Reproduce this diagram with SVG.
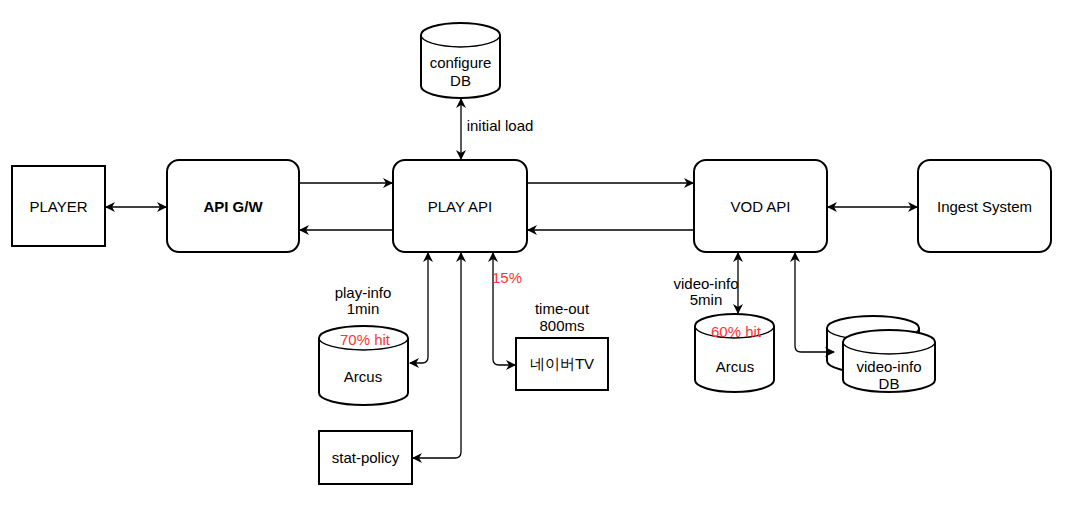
<svg xmlns="http://www.w3.org/2000/svg" width="1073" height="508" viewBox="0 0 1073 508">
<style>
.n{fill:#fff;stroke:#000;stroke-width:2}
.t{font-family:"Liberation Sans",Arial,sans-serif;font-size:15px;fill:#000;text-anchor:middle}
.r{fill:#ff3333}
.c{fill:none;stroke:#000;stroke-width:1.3}
</style>
<defs>
<marker id="a" viewBox="0 0 10 10" refX="9" refY="5" markerWidth="10" markerHeight="10" markerUnits="userSpaceOnUse" orient="auto-start-reverse">
<path d="M0,0 L10,5 L0,10 L3,5 z" fill="#000"/>
</marker>
</defs>
<rect width="1073" height="508" fill="#fff"/>
<g id="player"><rect class="n" x="12" y="166" width="93" height="80" stroke-width="2.5"/><text class="t" x="58.5" y="212">PLAYER</text></g>
<g id="apigw"><rect class="n" x="167" y="160" width="132" height="92" rx="12"/><text class="t" x="233" y="212" font-weight="bold">API G/W</text></g>
<g id="playapi"><rect class="n" x="393" y="160" width="134" height="92" rx="12"/><text class="t" x="460" y="212">PLAY API</text></g>
<g id="vodapi"><rect class="n" x="694" y="160" width="133" height="92" rx="12"/><text class="t" x="760.5" y="212">VOD API</text></g>
<g id="ingest"><rect class="n" x="918" y="160" width="133" height="92" rx="12"/><text class="t" x="984.5" y="212">Ingest System</text></g>
<g id="configdb">
<path class="n" stroke-width="1.3" d="M421,35 A39.5,12 0 0 1 500,35 L500,86 A39.5,12 0 0 1 421,86 Z"/>
<path fill="none" stroke="#000" stroke-width="1.3" d="M421,35 A39.5,12 0 0 0 500,35"/>
<text class="t" x="460.5" y="68">configure</text><text class="t" x="460.5" y="86">DB</text>
</g>
<g id="arcus1">
<path class="n" stroke-width="1.3" d="M319,338 A44.5,12 0 0 1 408,338 L408,393 A44.5,12 0 0 1 319,393 Z"/>
<path fill="none" stroke="#000" stroke-width="1.3" d="M319,338 A44.5,12 0 0 0 408,338"/>
<text class="t r" x="365" y="345">70% hit</text><text class="t" x="363" y="382">Arcus</text>
</g>
<g id="statpolicy"><rect class="n" stroke-width="1.3" x="319" y="431" width="93" height="53"/><text class="t" x="365.5" y="463">stat-policy</text></g>
<g id="navertv"><rect class="n" stroke-width="1.3" x="516" y="338" width="92" height="52"/><text class="t" x="562" y="369" font-family="'Liberation Sans','Noto Sans CJK KR',sans-serif">네이버TV</text></g>
<g id="arcus2">
<path class="n" stroke-width="1.3" d="M695,326 A39.5,12 0 0 1 774,326 L774,380 A39.5,12 0 0 1 695,380 Z"/>
<path fill="none" stroke="#000" stroke-width="1.3" d="M695,326 A39.5,12 0 0 0 774,326"/>
<text class="t r" x="736" y="337">60% hit</text><text class="t" x="735" y="372">Arcus</text>
</g>
<g id="videodb">
<path class="n" stroke-width="1.3" d="M827,328 A46,12 0 0 1 919,328 L919,361 A46,12 0 0 1 827,361 Z"/>
<path fill="none" stroke="#000" stroke-width="1.3" d="M827,328 A46,12 0 0 0 919,328"/>
<path class="n" stroke-width="1.3" d="M843,342 A46,12 0 0 1 935,342 L935,380 A46,12 0 0 1 843,380 Z"/>
<path fill="none" stroke="#000" stroke-width="1.3" d="M843,342 A46,12 0 0 0 935,342"/>
<text class="t" x="889" y="372">video-info</text><text class="t" x="889" y="389">DB</text>
</g>
<g id="connectors">
<path class="c" d="M106,207 L166,207" marker-start="url(#a)" marker-end="url(#a)"/>
<path class="c" d="M299,183 L392,183" marker-end="url(#a)"/>
<path class="c" d="M393,230 L300,230" marker-end="url(#a)"/>
<path class="c" d="M527,183 L693,183" marker-end="url(#a)"/>
<path class="c" d="M694,230 L528,230" marker-end="url(#a)"/>
<path class="c" d="M828,207 L917,207" marker-start="url(#a)" marker-end="url(#a)"/>
<path class="c" d="M461,99 L461,159" marker-start="url(#a)" marker-end="url(#a)"/>
<path class="c" d="M428,253 L428,357 Q428,363 422,363 L410,363" marker-start="url(#a)" marker-end="url(#a)"/>
<path class="c" d="M461,253 L461,452 Q461,458 455,458 L413,458" marker-start="url(#a)" marker-end="url(#a)"/>
<path class="c" d="M493,253 L493,359 Q493,365 499,365 L515,365" marker-start="url(#a)" marker-end="url(#a)"/>
<path class="c" d="M738,253 L738,313" marker-start="url(#a)" marker-end="url(#a)"/>
<path class="c" d="M795,253 L795,346 Q795,352 801,352 L834,352" marker-start="url(#a)" marker-end="url(#a)"/>
<text class="t" x="500" y="131">initial load</text>
<text class="t" x="363" y="298">play-info</text><text class="t" x="363" y="314">1min</text>
<text class="t r" x="507" y="283">15%</text>
<text class="t" x="562" y="314">time-out</text><text class="t" x="562" y="331">800ms</text>
<text class="t" x="706" y="289">video-info</text><text class="t" x="706" y="305">5min</text>
</g>
</svg>
